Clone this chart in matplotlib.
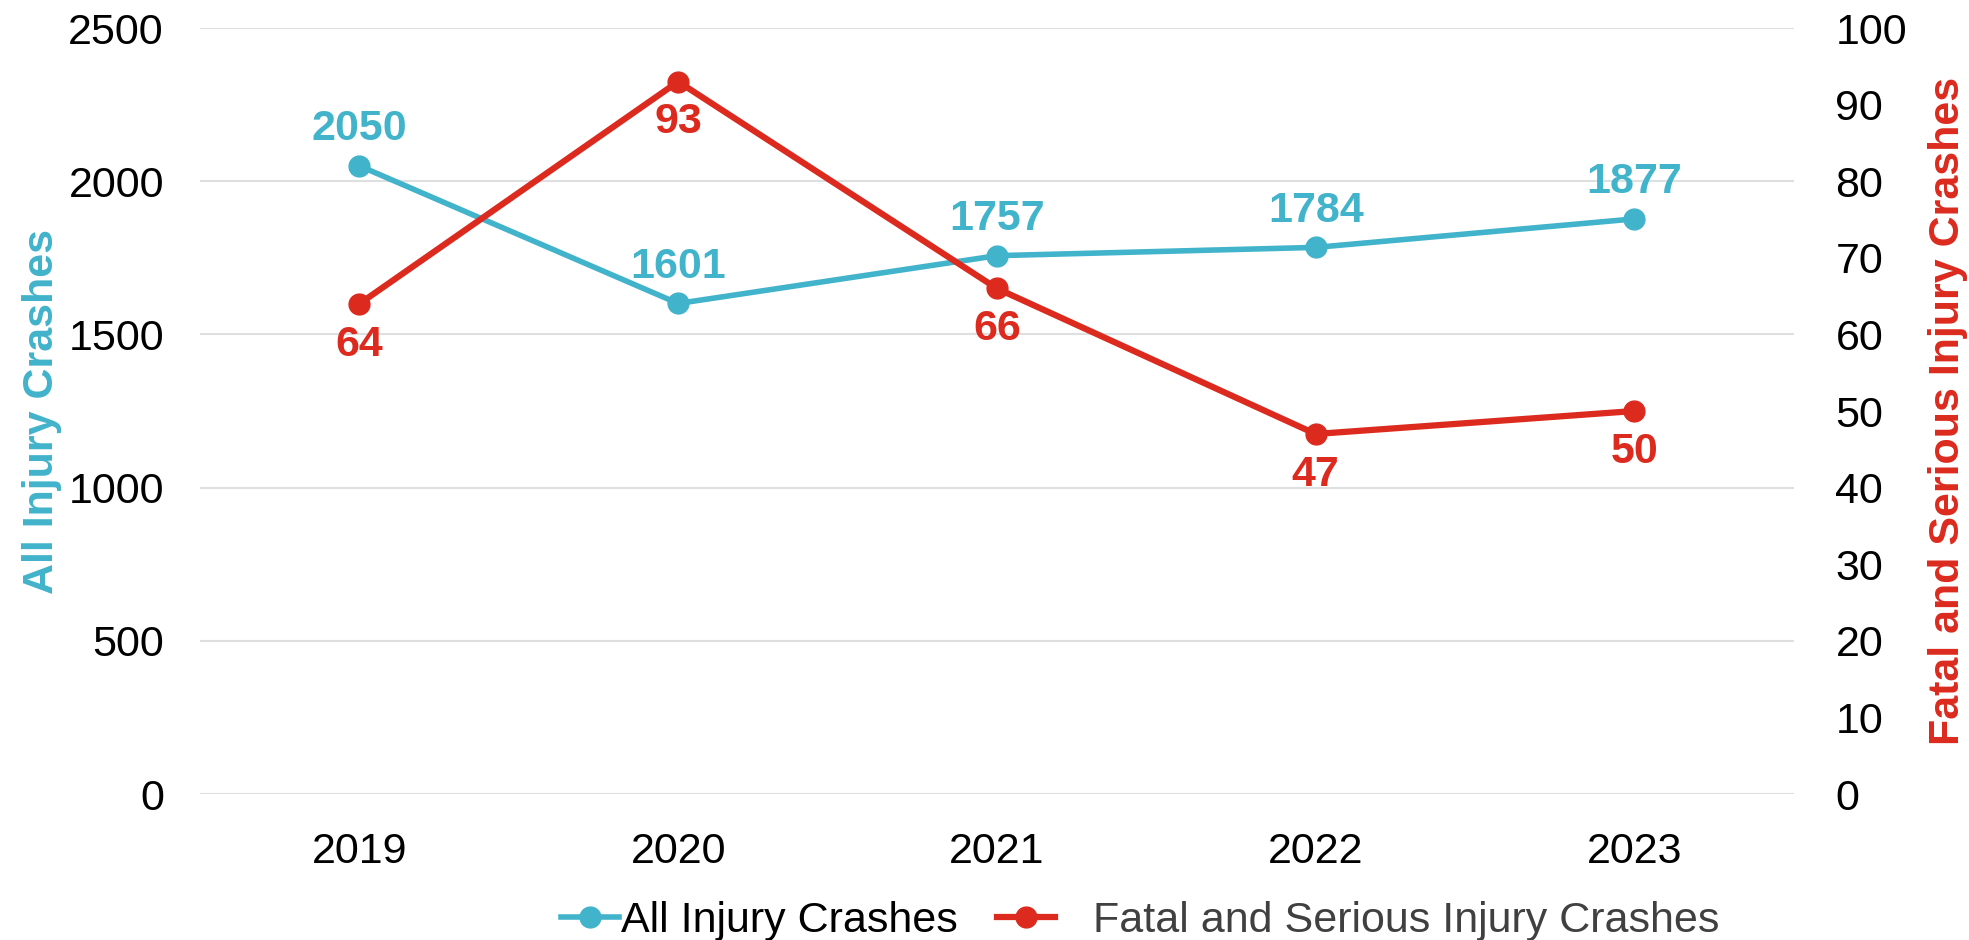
import matplotlib
matplotlib.use('Agg')
import matplotlib.pyplot as plt

plt.rcParams['font.family'] = ['Liberation Sans', 'DejaVu Sans']

# Datos del grafico
anios = ['2019', '2020', '2021', '2022', '2023']
all_injury = [2050, 1601, 1757, 1784, 1877]
fatal_serious = [64, 93, 66, 47, 50]

color_azul = '#41B3CB'
color_rojo = '#DC2A1E'

fig = plt.figure(figsize=(19.69, 9.40), dpi=100)
ax = fig.add_axes([0.1016, 0.1553, 0.8094, 0.8149])
ax2 = ax.twinx()

x = list(range(len(anios)))

# Linea de todas las lesiones (eje izquierdo)
l1, = ax.plot(x, all_injury, color=color_azul, linewidth=4, marker='o', markersize=15,
              label='All Injury Crashes', zorder=3)
# Linea de fatales y graves (eje derecho)
l2, = ax2.plot(x, fatal_serious, color=color_rojo, linewidth=4.5, marker='o', markersize=15,
               label='   Fatal and Serious Injury Crashes', zorder=3)

# Etiquetas de datos
for xi, v in zip(x, all_injury):
    ax.annotate(str(v), xy=(xi, v), xytext=(0, 12), textcoords='offset points',
                ha='center', va='bottom', fontsize=31, fontweight='bold', color=color_azul)
for xi, v in zip(x, fatal_serious):
    ax2.annotate(str(v), xy=(xi, v), xytext=(0, -15), textcoords='offset points',
                 ha='center', va='top', fontsize=31, fontweight='bold', color=color_rojo)

ax.set_xlim(-0.5, 4.5)
ax.set_ylim(0, 2500)
ax2.set_ylim(0, 100)
ax.set_yticks(range(0, 2501, 500))
ax2.set_yticks(range(0, 101, 10))
ax.set_xticks(x)
ax.set_xticklabels(anios)

ax.grid(axis='y', color='#DDDFE0', linewidth=1.5)
ax.set_axisbelow(True)
for a in (ax, ax2):
    for s in a.spines.values():
        s.set_visible(False)
    a.tick_params(length=0, labelsize=31)
ax.tick_params(axis='y', pad=26)
ax.tick_params(axis='x', pad=27)
ax2.tick_params(axis='y', pad=30)

ax.set_ylabel('All Injury Crashes', fontsize=31, fontweight='bold', color=color_azul)
ax.yaxis.set_label_coords(-0.0866, 0.5)
ax2.set_ylabel('Fatal and Serious Injury Crashes', fontsize=31, fontweight='bold', color=color_rojo,
               rotation=90)
ax2.yaxis.set_label_coords(1.084, 0.5)

leg = fig.legend(handles=[l1, l2], loc='lower center', bbox_to_anchor=(0.579, -0.042), ncol=2,
                 frameon=False, fontsize=31, handlelength=1.35, handletextpad=0.05, columnspacing=0.9)
leg.get_texts()[1].set_color('#404040')

fig.savefig('out.png', dpi=100)
